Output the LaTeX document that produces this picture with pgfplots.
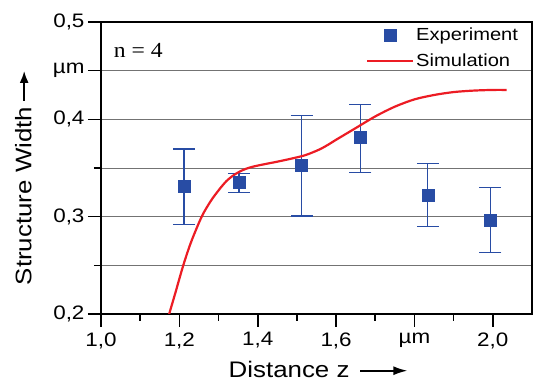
\documentclass[border=0pt]{standalone}
\usepackage{fontspec}
\setmainfont{Liberation Sans}[FakeStretch=1.15]
\newfontfamily\serifn{Liberation Serif}[FakeStretch=1.1]
\usepackage{pgfplots}
\pgfplotsset{compat=1.18}
\usetikzlibrary{arrows.meta}
\definecolor{expblue}{RGB}{40,76,164}
\definecolor{simred}{RGB}{236,28,36}
\definecolor{gridgray}{RGB}{115,115,115}
\newcommand{\xarrow}{\tikz[baseline=-0.6ex]\draw[line width=1.7pt,-{Latex[length=14pt,width=9pt]}] (0,0)--(47pt,0);}
\newcommand{\yarrow}{\tikz[baseline=-0.6ex]\draw[line width=1.7pt,-{Latex[length=12pt,width=9pt]}] (0,0)--(30pt,0);}
\pgfplotstableread{
x     y      ep     em
1.212 0.3316 0.0380 0.0400
1.352 0.3349 0.0097 0.0102
1.512 0.3531 0.0510 0.0524
1.662 0.3812 0.0340 0.0356
1.834 0.3223 0.0326 0.0326
1.994 0.2966 0.0332 0.0332
}\exptable
\pgfplotstableread{
x     y
1.174 0.200
1.190 0.222
1.210 0.250
1.230 0.274
1.257 0.300
1.280 0.316
1.300 0.327
1.320 0.3365
1.340 0.3430
1.360 0.3475
1.380 0.3505
1.406 0.3530
1.450 0.3565
1.490 0.3600
1.520 0.3630
1.540 0.3660
1.560 0.3695
1.580 0.3740
1.600 0.3790
1.625 0.3850
1.650 0.3910
1.700 0.4030
1.750 0.4130
1.800 0.4205
1.850 0.4250
1.900 0.4280
1.950 0.4295
2.000 0.4302
2.035 0.4302
}\simtable
\begin{document}
\begin{tikzpicture}
\begin{axis}[
  scale only axis, width=431pt, height=292pt,
  xmin=1.0, xmax=2.1, ymin=0.2, ymax=0.5,
  axis line style={line width=1.8pt},
  xtick={1.0,1.2,1.4,1.6,1.8,2.0},
  xticklabels={{1,0},{1,2},{1,4},{1,6},µm,{2,0}},
  minor xtick={1.1,1.3,1.5,1.7,1.9},
  ytick={0.2,0.3,0.4,0.45,0.5},
  yticklabels={{0,2},{0,3},{0,4},µm,{0,5}},
  minor ytick={0.25,0.35},
  tick align=outside, xtick pos=bottom, ytick pos=left,
  major tick length=13pt, minor tick length=7pt,
  every tick/.style={black, line width=1.6pt},
  ymajorgrids, yminorgrids,
  major grid style={gridgray, line width=0.9pt},
  minor grid style={gridgray, line width=0.9pt},
  tick label style={font=\fontsize{19.5}{22}\selectfont},
  xticklabel style={yshift=-2pt},
  /pgf/number format/assume math mode=true,
  xlabel={Distance z\hspace{10pt}\xarrow},
  ylabel={Structure Width\hspace{5pt}\yarrow},
  xlabel style={at={(axis description cs:0.5046,0)}, anchor=north, yshift=-44pt, font=\fontsize{22.5}{26}\selectfont},
  ylabel style={at={(axis description cs:-0.153,0.467)}, anchor=south, font=\fontsize{22.5}{26}\selectfont},
  legend style={draw=none, fill=none, at={(rel axis cs:0.975,0.99)}, anchor=north east,
    font=\fontsize{17.5}{20}\selectfont, row sep=8pt, cells={anchor=west}, inner sep=1pt,
    /tikz/every even column/.append style={column sep=5pt}},
  legend image code/.code={\draw[mark repeat=2,mark phase=2,#1] plot coordinates {(0pt,0pt)(23pt,0pt)(46pt,0pt)};},
]
\coordinate (sw) at (rel axis cs:0,0);
\addplot[only marks, mark=square*, mark size=6pt, mark options={expblue, fill=expblue},
  error bars/.cd, y dir=both, y explicit,
  error bar style={line width=1.3pt, expblue},
  error mark options={rotate=90, mark size=11pt, line width=1.3pt, expblue}]
  table[x=x, y=y, y error plus=ep, y error minus=em] {\exptable};
\addlegendentry{Experiment}
\addplot[simred, line width=2.2pt, smooth, no marks] table[x=x, y=y] {\simtable};
\addlegendentry{Simulation}
\node[anchor=west, font=\serifn\fontsize{21.5}{25}\selectfont] at (axis cs:1.024,0.4713) {n = 4};
\end{axis}
\pgfresetboundingbox
\path (sw) ++(-101pt,-73pt) rectangle ++(535pt,387pt);
\end{tikzpicture}
\end{document}
